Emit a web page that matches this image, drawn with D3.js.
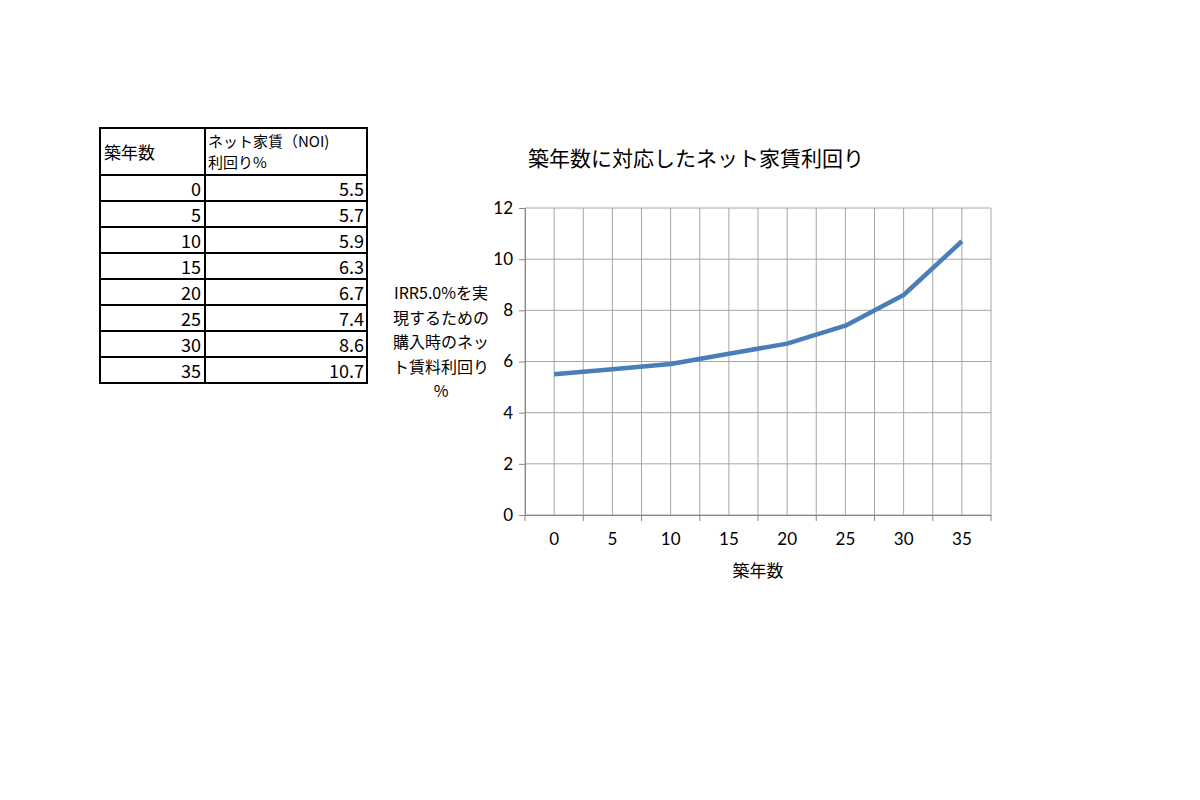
<!DOCTYPE html>
<html>
<head>
<meta charset="utf-8">
<script src="https://cdn.jsdelivr.net/npm/d3@7"></script>
<style>
  body { margin: 0; background: #fff; }
  svg text { fill: #000; }
</style>
</head>
<body>
<div id="chart"></div>
<script>
// data
const ages = [0, 5, 10, 15, 20, 25, 30, 35];
const yields = [5.5, 5.7, 5.9, 6.3, 6.7, 7.4, 8.6, 10.7];
const yTicks = [0, 2, 4, 6, 8, 10, 12];
const tableHeader = ["築年数", ["ネット家賃（NOI)", "利回り%"]];
const chartTitle = "築年数に対応したネット家賃利回り";
const xTitle = "築年数";
const yTitleLines = ["IRR5.0%を実", "現するための", "購入時のネッ", "ト賃料利回り", "%"];

const width = 1200, height = 800;
const jp = "'Noto Sans CJK JP', sans-serif";
const num = "Lato, 'Noto Sans', sans-serif";

const svg = d3.select("#chart").append("svg")
    .attr("width", width)
    .attr("height", height);

// --- table on the left ---
const tbl = { left: 100, mid: 205, right: 367, top: 128, headH: 47, rowH: 26 };
const tg = svg.append("g");
const tableBottom = tbl.top + tbl.headH + tbl.rowH * ages.length;

tg.append("text")
    .attr("x", tbl.left + 4).attr("y", tbl.top + 31)
    .style("font-family", jp).style("font-size", "17px")
    .text(tableHeader[0]);
tableHeader[1].forEach((t, i) => {
    tg.append("text")
        .attr("x", tbl.mid + 3).attr("y", tbl.top + 19 + i * 21)
        .style("font-family", jp).style("font-size", "15px")
        .text(t);
});

ages.forEach((a, i) => {
    const y = tbl.top + tbl.headH + tbl.rowH * i;
    tg.append("text")
        .attr("x", tbl.mid - 4).attr("y", y + 21)
        .attr("text-anchor", "end")
        .style("font-family", jp).style("font-size", "18px")
        .text(a);
    tg.append("text")
        .attr("x", tbl.right - 3).attr("y", y + 21)
        .attr("text-anchor", "end")
        .style("font-family", jp).style("font-size", "18px")
        .text(yields[i]);
});

// borders
const hLines = [tbl.top, tbl.top + tbl.headH].concat(ages.map((a, i) => tbl.top + tbl.headH + tbl.rowH * (i + 1)));
hLines.forEach(y => {
    tg.append("line").attr("x1", tbl.left).attr("x2", tbl.right).attr("y1", y).attr("y2", y)
        .attr("stroke", "#000").attr("stroke-width", 2);
});
[tbl.left, tbl.mid, tbl.right].forEach(x => {
    tg.append("line").attr("x1", x).attr("x2", x).attr("y1", tbl.top - 1).attr("y2", tableBottom + 1)
        .attr("stroke", "#000").attr("stroke-width", 2);
});

// --- line chart ---
const plot = { left: 525, right: 991, top: 208, bottom: 515 };

const x = d3.scaleBand()
    .domain(ages)
    .range([plot.left, plot.right]);

const y = d3.scaleLinear()
    .domain([0, 12])
    .range([plot.bottom, plot.top]);

// vertical grid: at band edges and band centres
const vGrid = [];
ages.forEach(a => { vGrid.push(x(a)); vGrid.push(x(a) + x.bandwidth() / 2); });
vGrid.push(plot.right);
svg.append("g").selectAll("line")
    .data(vGrid)
    .join("line")
    .attr("x1", d => d).attr("x2", d => d)
    .attr("y1", plot.top).attr("y2", plot.bottom)
    .attr("stroke", "#a6a6a6").attr("stroke-width", 1);

// horizontal grid
svg.append("g").selectAll("line")
    .data(yTicks)
    .join("line")
    .attr("x1", plot.left).attr("x2", plot.right)
    .attr("y1", d => y(d)).attr("y2", d => y(d))
    .attr("stroke", "#a6a6a6").attr("stroke-width", 1);

// y axis
const yAxis = svg.append("g")
    .attr("transform", `translate(${plot.left},0)`)
    .call(d3.axisLeft(y).tickValues(yTicks).tickSize(6).tickPadding(6));
yAxis.select(".domain").attr("stroke", "#868686");
yAxis.selectAll(".tick line").attr("stroke", "#868686");
yAxis.selectAll("text").style("font-family", num).style("font-size", "17px");

// x axis: ticks at band boundaries, labels at centres
const xAxis = svg.append("g")
    .attr("transform", `translate(0,${plot.bottom})`)
    .call(d3.axisBottom(x).tickSize(0).tickPadding(18));
xAxis.select(".domain").attr("stroke", "#868686");
xAxis.selectAll("text").style("font-family", num).style("font-size", "17px");
svg.append("g").selectAll("line")
    .data(ages.map(a => x(a)).concat([plot.right]))
    .join("line")
    .attr("x1", d => d).attr("x2", d => d)
    .attr("y1", plot.bottom).attr("y2", plot.bottom + 6)
    .attr("stroke", "#868686");

// series line
const line = d3.line()
    .x((d, i) => x(ages[i]) + x.bandwidth() / 2)
    .y(d => y(d));
svg.append("path")
    .datum(yields)
    .attr("fill", "none")
    .attr("stroke", "#4a7ebb")
    .attr("stroke-width", 4.5)
    .attr("stroke-linejoin", "round")
    .attr("d", line);

// titles
svg.append("text")
    .attr("x", 696).attr("y", 166)
    .attr("text-anchor", "middle")
    .style("font-family", jp).style("font-size", "21px")
    .text(chartTitle);

svg.append("text")
    .attr("x", (plot.left + plot.right) / 2).attr("y", 577)
    .attr("text-anchor", "middle")
    .style("font-family", jp).style("font-size", "17px")
    .text(xTitle);

const yt = svg.append("text")
    .attr("text-anchor", "middle")
    .style("font-family", jp).style("font-size", "16px");
yTitleLines.forEach((t, i) => {
    yt.append("tspan").attr("x", 441).attr("y", 299 + i * 24.5).text(t);
});
</script>
</body>
</html>
